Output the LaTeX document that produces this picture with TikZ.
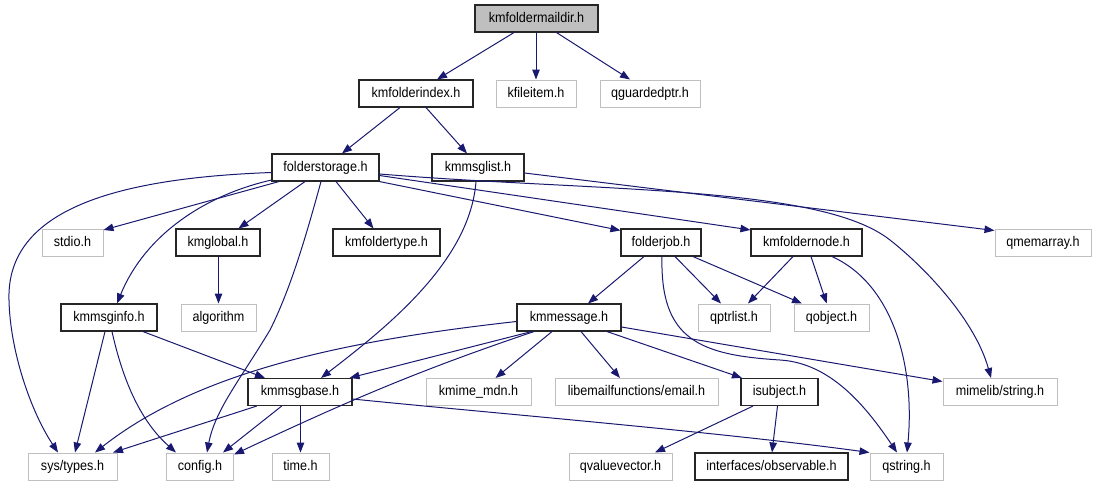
\documentclass[tikz,border=0pt]{standalone}
\usepackage{fontspec}
\setmainfont{Liberation Sans}[FakeStretch=0.9]
\usetikzlibrary{arrows.meta}
\definecolor{edgec}{HTML}{191970}
\definecolor{lgray}{HTML}{BFBFBF}
\tikzset{
  hbox/.style={rectangle, minimum height=27pt, inner sep=0pt, text height=10pt, text depth=3pt, font=\fontsize{14}{16}\selectfont},
  inc/.style={hbox, draw=black!85, line width=1.1pt, fill=white},
  ext/.style={hbox, draw=lgray, line width=1pt, fill=white},
  root/.style={hbox, draw=black!85, line width=1.1pt, fill=lgray},
  dep/.style={draw=edgec, line width=1pt, -{Triangle[length=10pt,width=7.5pt]}}
}
\begin{document}
\begin{tikzpicture}[x=1pt, y=-1pt]
\useasboundingbox (0,0) rectangle (1096,485);
% nodes
\node[root, minimum width=123pt] (md) at (536.5,18.5) {kmfoldermaildir.h};
\node[inc, minimum width=114pt] (ki) at (416,93.5) {kmfolderindex.h};
\node[ext, minimum width=80pt] (kfi) at (536,93.5) {kfileitem.h};
\node[ext, minimum width=100pt] (qg) at (650,93.5) {qguardedptr.h};
\node[inc, minimum width=107pt] (fs) at (325.5,167.5) {folderstorage.h};
\node[inc, minimum width=92pt] (ml) at (478,167.5) {kmmsglist.h};
\node[ext, minimum width=61pt] (sio) at (72.5,242.5) {stdio.h};
\node[inc, minimum width=84pt] (kg) at (218,242.5) {kmglobal.h};
\node[inc, minimum width=107pt] (kft) at (386.5,242.5) {kmfoldertype.h};
\node[inc, minimum width=80pt] (fj) at (661,242.5) {folderjob.h};
\node[inc, minimum width=111pt] (kfn) at (806.5,242.5) {kmfoldernode.h};
\node[ext, minimum width=96pt] (qma) at (1043,242.5) {qmemarray.h};
\node[inc, minimum width=96pt] (kmi) at (109,317.5) {kmmsginfo.h};
\node[ext, minimum width=75pt] (alg) at (218.5,317.5) {algorithm};
\node[inc, minimum width=104pt] (kmm) at (569,317.5) {kmmessage.h};
\node[ext, minimum width=72pt] (qpl) at (734,317.5) {qptrlist.h};
\node[ext, minimum width=75pt] (qo) at (831.5,317.5) {qobject.h};
\node[inc, minimum width=104pt] (kmb) at (300,392) {kmmsgbase.h};
\node[ext, minimum width=105pt] (mdn) at (478.5,392) {kmime\_mdn.h};
\node[ext, minimum width=163pt] (lef) at (636.5,392) {libemailfunctions/email.h};
\node[inc, minimum width=77pt] (isu) at (779.5,392) {isubject.h};
\node[ext, minimum width=114pt] (mls) at (1000,392) {mimelib/string.h};
\node[ext, minimum width=89pt] (st) at (72.5,466.5) {sys/types.h};
\node[ext, minimum width=67pt] (cfg) at (200,466.5) {config.h};
\node[ext, minimum width=57pt] (tm) at (300.5,466.5) {time.h};
\node[ext, minimum width=103pt] (qvv) at (620.5,466.5) {qvaluevector.h};
\node[inc, minimum width=153pt] (obs) at (771.5,466.5) {interfaces/observable.h};
\node[ext, minimum width=73pt] (qs) at (906.5,466.5) {qstring.h};
% edges
\draw[dep] ([xshift=-22.5pt]md.south) -- ([xshift=21pt]ki.north);
\draw[dep] (kfi.north |- md.south) -- (kfi.north);
\draw[dep] ([xshift=20pt]md.south) -- ([xshift=-20pt]qg.north);
\draw[dep] ([xshift=-16pt]ki.south) -- ([xshift=16.5pt]fs.north);
\draw[dep] ([xshift=10pt]ki.south) -- ([xshift=-11pt]ml.north);
\draw[dep] ([xshift=-46.5pt]fs.south) -- ([yshift=-1.5pt]sio.north east);
\draw[dep] ([xshift=-20.5pt]fs.south) -- ([xshift=20.5pt]kg.north);
\draw[dep] ([xshift=10.5pt]fs.south) -- ([xshift=-13pt]kft.north);
\draw[dep] ([yshift=-5pt]fs.west) .. controls (120,178) and (6,208) .. (9,300)
   .. controls (10,350) and (30,410) .. ([xshift=-14.5pt]st.north);
\draw[dep] ([yshift=1.5pt]fs.south west) .. controls (205,195) and (145,235) .. ([xshift=8pt]kmi.north);
\draw[dep] ([xshift=-4.5pt]fs.south) .. controls (305,240) and (290,290) .. (270,330)
   .. controls (240,380) and (215,410) .. ([xshift=7pt]cfg.north);
\draw[dep] (fs.south east) -- ([yshift=-2pt]fj.north west);
\draw[dep] ([yshift=-8pt]fs.east) -- ([yshift=-1.5pt]kfn.north west);
\draw[dep] ([yshift=-6.5pt]fs.east) .. controls (600,192) and (820,185) .. (890,240)
   .. controls (925,267.5) and (975,320) .. ([xshift=-9pt]mls.north);
\draw[dep] ([yshift=-5.5pt]ml.east) -- ([yshift=-2pt]qma.north west);
\draw[dep] ([xshift=-2pt]ml.south) .. controls (470,260) and (390,325) .. ([xshift=21pt]kmb.north);
\draw[dep] (alg.north |- kg.south) -- (alg.north);
\draw[dep] ([xshift=-17pt]fj.south) -- ([xshift=19pt]kmm.north);
\draw[dep] ([xshift=14pt]fj.south) -- ([xshift=-13pt]qpl.north);
\draw[dep] ([xshift=32pt]fj.south) -- ([xshift=-29.5pt]qo.north);
\draw[dep] ([xshift=1pt]fj.south) .. controls (660,340) and (700,355) .. (780,360)
   .. controls (830,363) and (865,405) .. ([xshift=-9.5pt]qs.north);
\draw[dep] ([xshift=-13.5pt]kfn.south) -- ([xshift=14pt]qpl.north);
\draw[dep] ([xshift=4.5pt]kfn.south) -- ([xshift=-4.8pt]qo.north);
\draw[dep] ([xshift=25.5pt]kfn.south) .. controls (895,285) and (915,370) .. ([xshift=0.5pt]qs.north);
\draw[dep] ([yshift=-9.5pt]kmm.east) -- ([yshift=-3.5pt]mls.north west);
\draw[dep] ([xshift=38pt]kmm.south) -- ([xshift=1.5pt]isu.north west);
\draw[dep] ([xshift=12pt]kmm.south) -- ([xshift=-16.5pt]lef.north);
\draw[dep] ([xshift=-17pt]kmm.south) -- ([xshift=17pt]mdn.north);
\draw[dep] ([xshift=-37.5pt]kmm.south) -- ([xshift=-3pt]kmb.north east);
\draw[dep] ([yshift=-4pt]kmm.west) .. controls (350,340) and (200,370) .. ([xshift=22.5pt]st.north);
\draw[dep] ([xshift=-35pt]kmm.south) .. controls (420,370) and (350,400) .. ([yshift=-2pt]cfg.north east);
\draw[dep] ([xshift=-4pt]kmi.south) -- ([xshift=2.5pt]st.north);
\draw[dep] ([xshift=3pt]kmi.south) .. controls (125,390) and (145,425) .. ([xshift=-24pt]cfg.north);
\draw[dep] ([xshift=34pt]kmi.south) -- ([xshift=-35pt]kmb.north);
\draw[dep] ([xshift=-43.3pt]kmb.south) -- ([xshift=40.5pt]st.north);
\draw[dep] ([xshift=-18.3pt]kmb.south) -- ([xshift=23pt]cfg.north);
\draw[dep] (tm.north |- kmb.south) -- (tm.north);
\draw[dep] ([yshift=-7pt]kmb.east) .. controls (480,412) and (720,432) .. (qs.north west);
\draw[dep] ([xshift=-26.5pt]isu.south) -- ([xshift=34.5pt]qvv.north);
\draw[dep] ([xshift=-2pt]isu.south) -- ([xshift=0.5pt]obs.north);
\end{tikzpicture}
\end{document}
